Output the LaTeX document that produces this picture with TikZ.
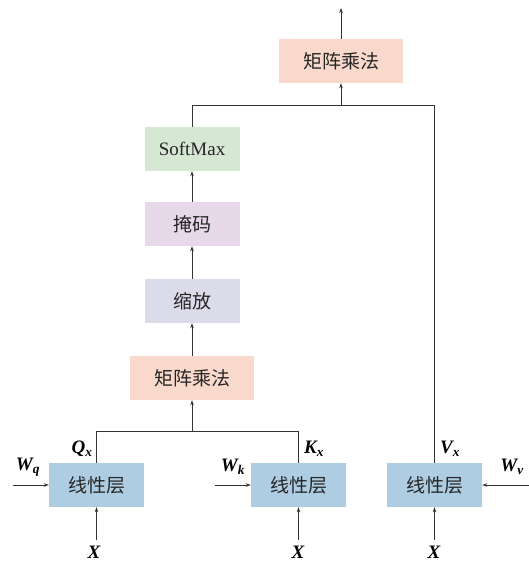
\documentclass[tikz,border=0pt]{standalone}
\usepackage{fontspec}
\setmainfont{Liberation Serif}
\newfontfamily\cjk{Noto Sans CJK SC}
\usetikzlibrary{arrows.meta}
\definecolor{linblue}{HTML}{AECDE3}
\definecolor{peach}{HTML}{F9D9CB}
\definecolor{smgreen}{HTML}{D6E8D4}
\definecolor{maskpink}{HTML}{E7D8EA}
\definecolor{scgray}{HTML}{DCDBEA}
\tikzset{
  box/.style={rectangle, minimum width=95pt, minimum height=44pt, inner sep=0pt, font=\cjk\fontsize{19}{21}\selectfont, text=black!85},
  wide/.style={box, minimum width=124pt},
  conn/.style={draw=black!80, line width=0.8pt},
  arr/.style={conn, -{Stealth[length=5pt,width=3.5pt]}},
  lab/.style={font=\bfseries\itshape\fontsize{19}{21}\selectfont, inner sep=0pt}
}
\begin{document}
\begin{tikzpicture}[x=1pt,y=-1pt]
\useasboundingbox (0,0) rectangle (529,565);
% boxes
\node[wide, fill=peach] (mm2) at (341,61) {矩阵乘法};
\node[box, fill=smgreen, font=\fontsize{19}{21}\selectfont] (sm) at (192,149) {SoftMax};
\node[box, fill=maskpink] (mask) at (192,224) {掩码};
\node[box, fill=scgray] (sc) at (192,301) {缩放};
\node[wide, fill=peach] (mm1) at (192,378) {矩阵乘法};
\node[box, fill=linblue] (l1) at (96.5,485) {线性层};
\node[box, fill=linblue] (l2) at (298.5,485) {线性层};
\node[box, fill=linblue] (l3) at (434.5,485) {线性层};
% labels
\node[lab] (x1) at (94,552) {X};
\node[lab] (x2) at (298,552) {X};
\node[lab] (x3) at (434,552) {X};
\node[lab] (qx) at (82,449) {Q\textsubscript{x}};
\node[lab] (kx) at (314,449) {K\textsubscript{x}};
\node[lab] (vx) at (450,449) {V\textsubscript{x}};
\node[lab] (wq) at (28,467) {W\textsubscript{q}};
\node[lab] (wk) at (233,467) {W\textsubscript{k}};
\node[lab] (wv) at (512,467) {W\textsubscript{v}};
% coordinates
\coordinate (out) at (341,8);
\coordinate (j1) at (341,105);
\coordinate (j2) at (192,431);
\coordinate (wqs) at (13,485);
\coordinate (wks) at (215,485);
\coordinate (wvs) at (529,485);
% connectors
\draw[arr] (mm2.north) -- (out);
\draw[conn] (sm.north) |- (j1);
\draw[conn] (l3.north) |- (j1);
\draw[arr] (j1) -- (mm2.south);
\draw[arr] (mask.north) -- (sm.south);
\draw[arr] (sc.north) -- (mask.south);
\draw[arr] (mm1.north) -- (sc.south);
\draw[conn] (l1.north) |- (j2);
\draw[conn] (l2.north) |- (j2);
\draw[arr] (j2) -- (mm1.south);
\draw[arr] ([yshift=6pt]x1.north -| l1.south) -- (l1.south);
\draw[arr] ([yshift=6pt]x2.north -| l2.south) -- (l2.south);
\draw[arr] ([yshift=6pt]x3.north -| l3.south) -- (l3.south);
\draw[arr] (wqs) -- (l1.west);
\draw[arr] (wks) -- (l2.west);
\draw[arr] (wvs) -- (l3.east);
\end{tikzpicture}
\end{document}
